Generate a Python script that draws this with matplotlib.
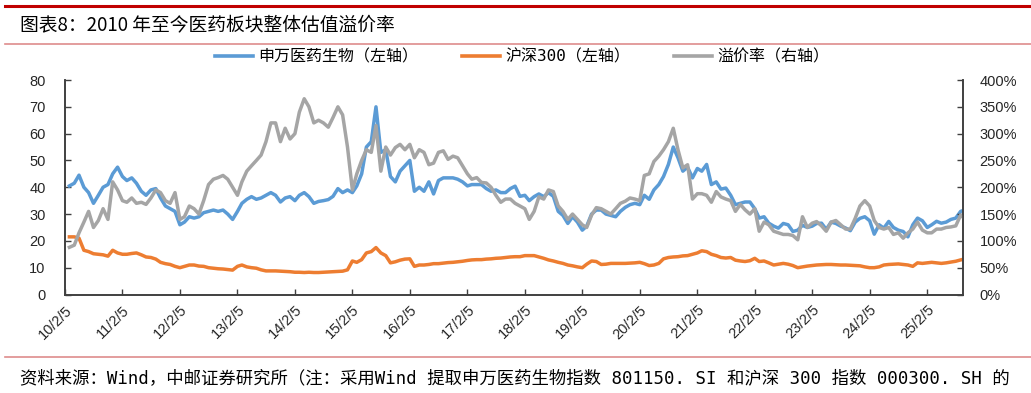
import matplotlib
matplotlib.use("Agg")
import matplotlib.pyplot as plt
from matplotlib.lines import Line2D
import pandas as pd

# ---------------- data (monthly, Feb 2010 - Sep 2025) ----------------
start_month = "2010-02-05"
n_months = 188

sw_pharma = [
    40.5, 41.5, 44.5, 40, 38, 34, 37, 40, 41, 45, 47.5, 44,
    42.5, 43.5, 41.5, 38.5, 37, 39, 39.5, 36, 33, 32, 31, 26,
    27, 29, 28.5, 29, 30.5, 31, 31.5, 31, 31.5, 30, 28, 31,
    34, 35.5, 36.5, 35.5, 36, 37, 38, 37, 34.5, 36, 36.5, 35,
    37, 38, 36.5, 34, 34.7, 35, 35.4, 36.6, 39.5, 38, 39, 38,
    40.5, 45, 55, 57, 70, 53, 54, 44, 42, 46, 48, 50,
    38.5, 40, 38.5, 42, 37.5, 42.5, 43.5, 43.5, 43.5, 43, 42, 40.5,
    41, 41, 41, 39.5, 38.5, 39, 38, 38, 39.5, 40.4, 36.6, 37,
    35, 36.5, 37.5, 36.5, 38, 36.6, 31, 29.5, 26.5, 29, 27, 24,
    25.5, 30, 31.5, 31.5, 30, 29.5, 29, 31, 32.5, 33.5, 34, 33.5,
    37, 35.5, 39, 41, 44, 48.5, 55, 51, 46, 47.5, 43.5, 47,
    46, 48.5, 41, 42, 39.3, 39.7, 37, 33.5, 34, 34.5, 34.5, 32,
    28.5, 29, 26.6, 25.5, 24.75, 26.5, 26, 23.5, 24, 25.8, 25, 25.5,
    26.5, 26.6, 24.3, 27, 26.5, 25.5, 24.8, 23.8, 27, 28.4, 29, 27.5,
    22.5, 26, 24.75, 27.25, 25, 24, 23.5, 21.5, 26, 28.5, 27.5, 25,
    26, 27.3, 26.6, 27, 28, 28.5, 31, 31.6,
]

hs300 = [
    21.5, 21.5, 21, 16.5, 16, 15.2, 15, 14.8, 14.3, 16.5, 15.5, 15,
    15, 15.3, 15.5, 14.8, 14, 13.8, 13.2, 12, 11.5, 11.2, 10.5, 10,
    10.5, 11, 11, 10.6, 10.5, 10, 9.8, 9.6, 9.5, 9.3, 9.1, 10.5,
    11, 10.3, 10, 9.8, 9.2, 8.8, 8.8, 8.8, 8.7, 8.6, 8.5, 8.3,
    8.3, 8.2, 8.3, 8.2, 8.2, 8.3, 8.4, 8.5, 8.6, 8.7, 9.2, 12.5,
    12, 13, 15.5, 16, 17.5, 15.5, 14.5, 11.8, 12.2, 12.8, 13.2, 13.3,
    10.5, 11, 11, 11.2, 11.5, 11.5, 11.7, 11.9, 12, 12.2, 12.4, 12.7,
    12.9, 13, 13, 13.2, 13.3, 13.5, 13.6, 13.8, 14, 14.1, 14.1, 14.5,
    14.5, 14.5, 14, 13.5, 12.9, 12.5, 12, 11.6, 11, 10.7, 10.3, 10,
    11.3, 12.5, 12.3, 11.2, 11.3, 11.6, 11.6, 11.6, 11.6, 11.7, 11.8, 12,
    11.5, 10.8, 11, 11.6, 13.3, 13.8, 14, 14.1, 14.4, 14.5, 15, 15.5,
    16.3, 16, 15, 14.5, 13.8, 13.6, 13.8, 12.8, 12.5, 12.3, 12.6, 13.5,
    12.3, 12.5, 11.8, 11, 11.3, 11.6, 11.3, 10.8, 10, 10.3, 10.6, 10.8,
    11, 11.1, 11.2, 11.2, 11.1, 11, 11, 10.9, 10.8, 10.7, 10.3, 10,
    10, 10.3, 11, 11.2, 11.3, 11.4, 11.2, 11, 10.5, 11.8, 11.6, 11.8,
    12, 11.8, 11.6, 11.8, 12.1, 12.4, 12.9, 13.3,
]

premium_pct = [
    88, 92, 115, 135, 155, 125, 138, 160, 140, 210, 195, 175,
    172, 180, 170, 172, 168, 180, 195, 190, 175, 170, 190, 140,
    145, 165, 160, 150, 175, 205, 215, 218, 222, 215, 200, 185,
    210, 230, 240, 250, 260, 285, 320, 320, 285, 310, 290, 300,
    340, 365, 350, 320, 325, 320, 312, 330, 350, 335, 275, 195,
    225, 250, 270, 265, 315, 230, 275, 260, 274, 280, 270, 280,
    255, 270, 265, 242, 245, 265, 268, 252, 258, 255, 240, 225,
    215, 218, 209, 208, 200, 185, 172, 178, 178, 170, 165, 160,
    140, 155, 182, 178, 195, 192, 165, 155, 140, 150, 140, 130,
    125, 148, 162, 160, 155, 150, 160, 170, 174, 180, 178, 175,
    222, 225, 248, 258, 270, 285, 310, 270, 236, 242, 178, 188,
    188, 185, 172, 192, 182, 178, 175, 155, 168, 158, 150, 160,
    118, 135, 130, 118, 115, 112, 112, 110, 102, 145, 125, 133,
    136, 128, 118, 135, 138, 130, 122, 122, 142, 165, 175, 165,
    138, 125, 122, 125, 112, 115, 105, 115, 122, 135, 120, 115,
    115, 122, 122, 125, 126, 128, 148, 140,
]

series_names = ["申万医药生物（左轴）", "沪深300（左轴）", "溢价率（右轴）"]
left_ticks = [0, 10, 20, 30, 40, 50, 60, 70, 80]
right_ticks = [0, 50, 100, 150, 200, 250, 300, 350, 400]
tick_years = list(range(2010, 2026))

title_text = "图表8：2010 年至今医药板块整体估值溢价率"
source_text = ("资料来源：Wind，中邮证券研究所（注：采用Wind 提取申万医药生物指数 "
               "801150. SI 和沪深 300 指数 000300. SH 的")

# ---------------- styling ----------------
CJK = ["Noto Sans CJK SC", "DejaVu Sans"]
CJK_MONO = ["DejaVu Sans Mono", "Noto Sans CJK SC"]
NUM = ["Liberation Sans", "DejaVu Sans"]
c_blue = "#5B9BD5"
c_orange = "#ED7D31"
c_gray = "#A5A5A5"
c_red = "#C00000"
c_lightred = "#DE8C8C"

dates = pd.date_range(start_month, periods=n_months, freq="MS") + pd.Timedelta(days=4)

W, H = 1031, 393
fig = plt.figure(figsize=(W / 100, H / 100), dpi=100)
fig.patch.set_facecolor("white")

ax = fig.add_axes([65 / W, 1 - 294.5 / H, (963 - 65) / W, (294.5 - 80) / H])
ax2 = ax.twinx()

lw = 2.5
ax.plot(dates, sw_pharma, color=c_blue, lw=lw, solid_joinstyle="round")
ax.plot(dates, hs300, color=c_orange, lw=lw, solid_joinstyle="round")
ax2.plot(dates, premium_pct, color=c_gray, lw=lw, solid_joinstyle="round")

x0 = pd.Timestamp("2010-02-05")
x1 = pd.Timestamp("2025-09-20")
ax.set_xlim(x0, x1)
ax.set_ylim(0, 80)
ax2.set_ylim(0, 400)

ax.set_yticks(left_ticks)
ax.set_yticklabels([str(v) for v in left_ticks], fontfamily=NUM, fontsize=10.5, color="#262626")
ax2.set_yticks(right_ticks)
ax2.set_yticklabels([f"{v}%" for v in right_ticks], fontfamily=NUM, fontsize=10.5, color="#262626")

xt = [pd.Timestamp(f"{y}-02-05") for y in tick_years]
ax.set_xticks(xt)
ax.set_xticklabels([f"{y % 100:02d}/2/5" for y in tick_years], fontfamily=NUM, fontsize=10.5,
                   rotation=45, ha="right", rotation_mode="anchor", color="#262626")

for a in (ax, ax2):
    a.spines["top"].set_visible(False)
    for s in ("left", "right", "bottom"):
        a.spines[s].set_color("#404040")
        a.spines[s].set_linewidth(1.2)
    a.tick_params(direction="in", length=4, width=1.0, color="#404040")
ax.tick_params(axis="y", pad=14)
ax2.tick_params(axis="y", pad=12)
ax.tick_params(axis="x", pad=6)
ax.patch.set_alpha(0)

# legend
leg_fs = 11.5
em = leg_fs * 100 / 72
handles = [Line2D([], [], color=c, lw=2.6) for c in (c_blue, c_orange, c_gray)]
fig.legend(handles, series_names, loc="center left",
           bbox_to_anchor=((215 - 0.4 * em) / W, 1 - 57 / H), borderaxespad=0, ncol=3,
           frameon=False, prop={"family": CJK_MONO, "size": leg_fs},
           handlelength=38 / em, handletextpad=5 / em, columnspacing=44 / em)

# title, rules, source
fig.add_artist(Line2D([5 / W, 1], [1 - 6 / H, 1 - 6 / H], color=c_red, lw=2.2))
fig.text(20 / W, 1 - 25 / H, title_text, family=CJK, fontsize=13.5, va="center", ha="left", color="black")
fig.add_artist(Line2D([5 / W, 1], [1 - 44 / H, 1 - 44 / H], color=c_lightred, lw=1.2))
fig.add_artist(Line2D([5 / W, 1], [1 - 357 / H, 1 - 357 / H], color=c_lightred, lw=1.2))
fig.text(20 / W, 1 - 378 / H, source_text, family=CJK_MONO, fontsize=12.5, va="center", ha="left", color="black")

fig.savefig("out.png", dpi=100, facecolor="white")
